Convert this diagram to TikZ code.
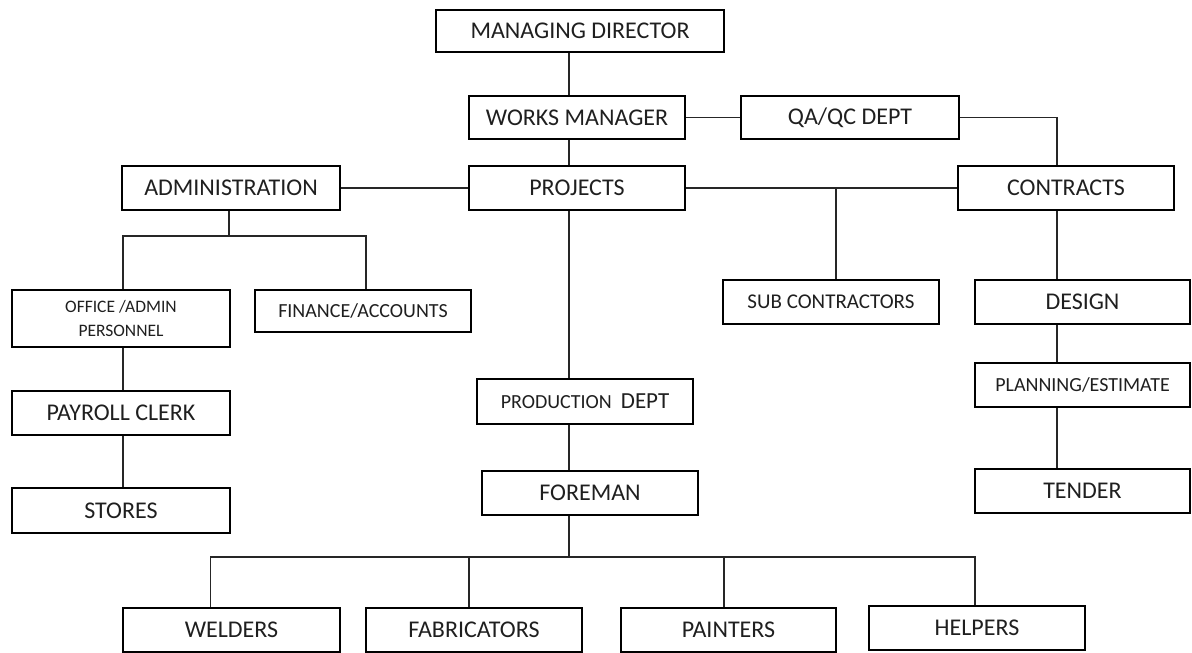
\documentclass[tikz,border=0pt]{standalone}
\usepackage{fontspec}
\setmainfont{Carlito}
\usetikzlibrary{positioning,calc}

\tikzset{
    orgbox/.style={draw, line width=1.5pt, inner sep=0pt, minimum height=44pt, minimum width=216pt, align=center, text=black!88},
    bigtxt/.style={font=\fontsize{24}{28}\selectfont},
    midtxt/.style={font=\fontsize{20}{24}\selectfont},
    smalltxt/.style={font=\fontsize{17.5}{24}\selectfont},
    link/.style={line width=1.5pt, black!85}
}

\begin{document}
\begin{tikzpicture}[x=1pt, y=-1pt]
\useasboundingbox (0,0) rectangle (1192,653);

% top of the chart
\node[orgbox, bigtxt, minimum width=288pt, minimum height=42pt] (md) at (580,31) {MANAGING DIRECTOR};
\node[orgbox, bigtxt, minimum height=43pt] (wm) at (577,117.5) {WORKS MANAGER};
\node[orgbox, bigtxt, minimum width=218pt, minimum height=43pt] (qa) at (850,117.5) {QA/QC DEPT};
\node[orgbox, bigtxt] (proj) at (577,188) {PROJECTS};
\node[orgbox, bigtxt, minimum width=218pt] (adm) at (231,188) {ADMINISTRATION};
\node[orgbox, bigtxt] (con) at (1066,188) {CONTRACTS};

% administration side
\node[orgbox, smalltxt, minimum width=218pt, minimum height=57pt] (office) at (121,318.5) {OFFICE /ADMIN\\PERSONNEL};
\node[orgbox, midtxt, minimum height=42pt] (fin) at (363,311) {FINANCE/ACCOUNTS};
\node[orgbox, bigtxt, minimum width=218pt] (pay) at (121,413) {PAYROLL CLERK};
\node[orgbox, bigtxt, minimum width=218pt, minimum height=45pt] (stores) at (121,510.5) {STORES};

% contracts side
\node[orgbox, midtxt, font=\fontsize{21}{24}\selectfont] (sub) at (831,302) {SUB CONTRACTORS};
\node[orgbox, bigtxt, minimum width=215pt] (des) at (1082.5,302) {DESIGN};
\node[orgbox, midtxt, minimum width=215pt] (plan) at (1082.5,385) {PLANNING/ESTIMATE};
\node[orgbox, bigtxt, minimum width=215pt] (tend) at (1082.5,491) {TENDER};

% production
\node[orgbox, midtxt, minimum height=45pt] (prod) at (585,401.5) {PRODUCTION\hspace{0.45em}{\fontsize{23}{28}\selectfont DEPT}};
\node[orgbox, bigtxt] (fore) at (590,493) {FOREMAN};
\node[orgbox, bigtxt, minimum width=217pt] (weld) at (231.5,630) {WELDERS};
\node[orgbox, bigtxt] (fab) at (474,630) {FABRICATORS};
\node[orgbox, bigtxt, minimum width=215pt] (paint) at (728.5,630) {PAINTERS};
\node[orgbox, bigtxt] (help) at (977,628) {HELPERS};

% joints
\coordinate (spine) at (569,0);
\coordinate (rspine) at (1057,0);
\coordinate (subjoin) at (836,188);
\coordinate (admbus) at (229,236);
\coordinate (bus) at (569,557);

% connectors
\draw[link] (md.south -| spine) -- (wm.north -| spine);
\draw[link] (wm.south -| spine) -- (proj.north -| spine);
\draw[link] (proj.south -| spine) -- (prod.north -| spine);
\draw[link] (prod.south -| spine) -- (fore.north -| spine);
\draw[link] (fore.south -| spine) -- (bus);
\draw[link] (wm.east) -- (qa.west);
\draw[link] (qa.east) -| (con.north -| rspine);
\draw[link] (adm.east) -- (proj.west);
\draw[link] (proj.east) -- (con.west);
\draw[link] (subjoin) -- (subjoin |- sub.north);
\draw[link] (con.south -| rspine) -- (des.north -| rspine);
\draw[link] (des.south -| rspine) -- (plan.north -| rspine);
\draw[link] (plan.south -| rspine) -- (tend.north -| rspine);
\draw[link] (adm.south -| admbus) -- (admbus);
\draw[link] ([xshift=2pt]office.north) |- (admbus) -| ([xshift=3pt]fin.north);
\draw[link] ([xshift=2pt]office.south) -- ([xshift=2pt]pay.north);
\draw[link] ([xshift=2pt]pay.south) -- ([xshift=2pt]stores.north);
\draw[link] ([xshift=-21pt]weld.north) |- (bus) -| ([xshift=-2pt]help.north);
\draw[link] ([xshift=-5pt]fab.north) -- ([xshift=-5pt]fab.north |- bus);
\draw[link] ([xshift=-4.5pt]paint.north) -- ([xshift=-4.5pt]paint.north |- bus);

\end{tikzpicture}
\end{document}
